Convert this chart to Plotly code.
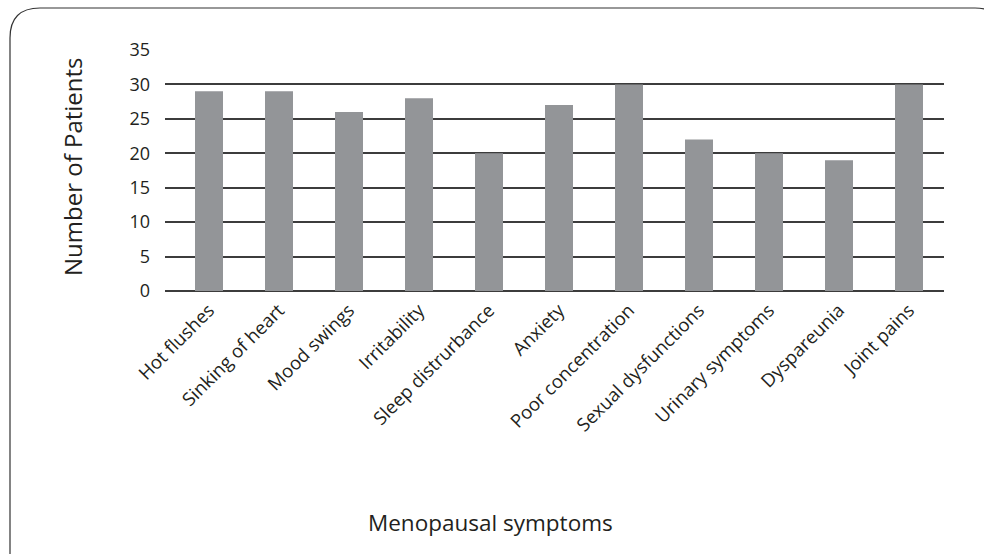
import plotly.graph_objects as go

# Menopausal symptoms reported and number of patients with each
symptoms = [
    "Hot flushes", "Sinking of heart", "Mood swings", "Irritability",
    "Sleep distrurbance", "Anxiety", "Poor concentration",
    "Sexual dysfunctions", "Urinary symptoms", "Dyspareunia", "Joint pains",
]
patients = [29, 29, 26, 28, 20, 27, 30, 22, 20, 19, 30]
y_ticks = [0, 5, 10, 15, 20, 25, 30, 35]

W, H = 984, 554
L, R, T, B = 165, 40, 50, 263  # plot area margins in px
PW, PH = W - L - R, H - T - B

def px_x(x):
    return (x - L) / PW

def px_y(y):
    return (H - B - y) / PH

FONT = "Open Sans, Noto Sans, sans-serif"
INK = "#231f20"

fig = go.Figure(
    go.Bar(
        x=list(range(len(symptoms))),
        y=patients,
        width=0.4,
        marker=dict(color="#939598", line=dict(width=0)),
        hoverinfo="x+y",
    )
)

# rounded frame around the chart (runs off the right and bottom edges)
x0, y0, x1, y1, r = 10, 8, 1005, 585, 30
frame = (
    f"M {px_x(x0 + r)} {px_y(y0)} "
    f"L {px_x(x1 - r)} {px_y(y0)} "
    f"Q {px_x(x1)} {px_y(y0)} {px_x(x1)} {px_y(y0 + r)} "
    f"L {px_x(x1)} {px_y(y1 - r)} "
    f"Q {px_x(x1)} {px_y(y1)} {px_x(x1 - r)} {px_y(y1)} "
    f"L {px_x(x0 + r)} {px_y(y1)} "
    f"Q {px_x(x0)} {px_y(y1)} {px_x(x0)} {px_y(y1 - r)} "
    f"L {px_x(x0)} {px_y(y0 + r)} "
    f"Q {px_x(x0)} {px_y(y0)} {px_x(x0 + r)} {px_y(y0)} Z"
)

fig.update_layout(
    width=W,
    height=H,
    margin=dict(l=L, r=R, t=T, b=B, pad=0),
    paper_bgcolor="white",
    plot_bgcolor="white",
    showlegend=False,
    font=dict(family=FONT, color=INK, size=17),
    xaxis=dict(
        range=[-44 / 70, 10.5],
        tickmode="array",
        tickvals=list(range(len(symptoms))),
        ticktext=symptoms,
        tickangle=-45,
        tickfont=dict(size=18.5, family=FONT, color=INK),
        showgrid=False,
        zeroline=False,
        showline=False,
        ticks="",
        ticklabelstandoff=4,
    ),
    yaxis=dict(
        range=[0, 35],
        tickmode="array",
        tickvals=y_ticks,
        tickfont=dict(size=18, family=FONT, color=INK),
        showgrid=True,
        gridcolor="#3c3c3c",
        gridwidth=1.5,
        zeroline=True,
        zerolinecolor="#3c3c3c",
        zerolinewidth=1.5,
        showline=False,
        ticks="",
        ticklabelstandoff=14,
    ),
    shapes=[
        dict(
            type="path",
            path=frame,
            xref="paper",
            yref="paper",
            line=dict(color="#333333", width=1.2),
            fillcolor="rgba(0,0,0,0)",
            layer="below",
        )
    ],
    annotations=[
        dict(
            text="Number of Patients",
            x=px_x(72), y=px_y(167),
            xref="paper", yref="paper",
            textangle=-90, showarrow=False,
            font=dict(size=24, family=FONT, color=INK),
            xanchor="center", yanchor="middle",
        ),
        dict(
            text="Menopausal symptoms",
            x=px_x(490), y=px_y(522),
            xref="paper", yref="paper",
            showarrow=False,
            font=dict(size=22.5, family=FONT, color=INK),
            xanchor="center", yanchor="middle",
        ),
    ],
)

fig.write_html("out.html")
